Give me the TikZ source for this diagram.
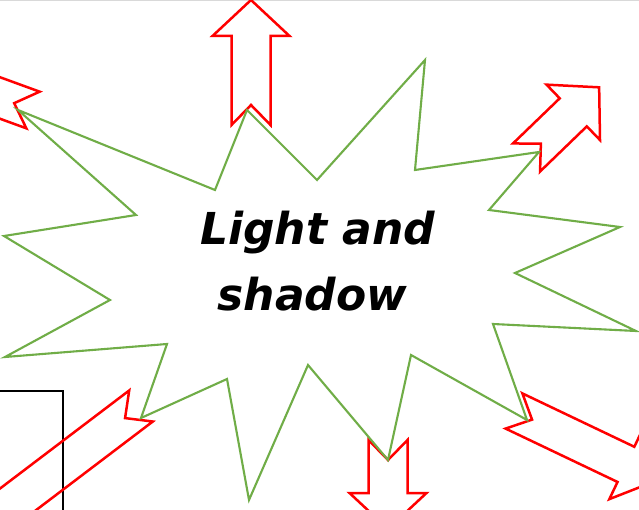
\documentclass[tikz,border=0pt]{standalone}
\usepackage{fontspec}
\setmainfont{DejaVu Sans}
\definecolor{stargreen}{HTML}{70AD47}
\definecolor{arrowred}{HTML}{FF0000}
\definecolor{topgray}{HTML}{D9D9D9}
\tikzset{
  starline/.style={draw=stargreen, line width=2.1pt, line join=miter},
  arrowline/.style={draw=arrowred, line width=2.5pt, line join=miter},
  boxline/.style={draw=black, line width=1.3pt},
  titletext/.style={font=\fontsize{44}{65}\selectfont\bfseries\itshape, inner sep=0pt, anchor=base}
}
% tail-midpoint x, y, angle (image frame, clockwise), shaft length
\newcommand{\notcharrow}[4]{%
  \begin{scope}[shift={(#1,#2)}, rotate={-(#3)}]
    \path[arrowline] (0,19.5) -- (#4,19.5) -- (#4,38.5) -- ({#4+36},0) -- (#4,-38.5) -- (#4,-19.5) -- (0,-19.5) -- (20,0) -- cycle;
  \end{scope}}
\begin{document}
\begin{tikzpicture}[x=1pt, y=-1pt]
\useasboundingbox (0,0) rectangle (639,510);
\clip (0,0) rectangle (639,510);
\fill[white] (0,0) rectangle (639,510);
\draw[topgray, line width=1.2pt] (0,0.6) -- (639,0.6);
% black box bottom-left
\draw[boxline] (-5,391) -- (63,391) -- (63,520);
% red arrows
\notcharrow{251}{125}{-90}{89}
\notcharrow{526.5}{157.5}{-44}{65}
\notcharrow{33}{110}{-160}{120}
\notcharrow{388}{440}{90}{53}
\notcharrow{514}{411}{25.5}{124}
\notcharrow{141}{406}{142.8}{250}
% star
\path[starline] (18,110) -- (215,190) -- (247,110) -- (317,180) -- (425,60) -- (415,170)
  -- (539,152) -- (489,210) -- (620,227) -- (515,273) -- (636,331) -- (493,324)
  -- (527,420) -- (411,355) -- (388,460) -- (308,365) -- (249,500) -- (227,379)
  -- (141,418) -- (167,344) -- (5,357) -- (110,300) -- (4,236) -- (136,215) -- cycle;
\node[titletext] (line1) at (317.5,245) {Light and};
\node[titletext] (line2) at (312.5,310) {shadow};
\end{tikzpicture}
\end{document}
